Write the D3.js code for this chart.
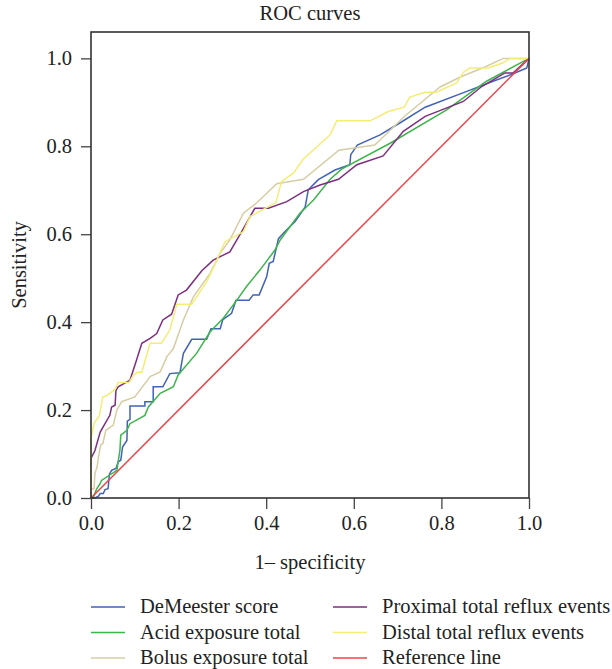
<!DOCTYPE html>
<html>
<head>
<meta charset="utf-8">
<script src="https://cdn.jsdelivr.net/npm/d3@7"></script>
<style>
  body { margin: 0; background: #fff; }
  text { font-family: "Liberation Serif", "DejaVu Serif", serif; fill: #222; }
</style>
</head>
<body>
<div id="vis"></div>
<script>
// ROC points as [1 - specificity, sensitivity]
var deMeester = [[0,0],[0.009,0],[0.017,0.004],[0.021,0.010],[0.028,0.010],[0.032,0.019],[0.039,0.021],
  [0.042,0.054],[0.047,0.063],[0.057,0.067],[0.062,0.082],[0.068,0.086],[0.072,0.116],[0.082,0.131],
  [0.083,0.175],[0.089,0.179],[0.089,0.209],[0.123,0.209],[0.123,0.219],[0.142,0.219],[0.142,0.253],
  [0.164,0.253],[0.180,0.283],[0.203,0.285],[0.211,0.329],[0.230,0.361],[0.264,0.361],[0.274,0.385],
  [0.295,0.385],[0.301,0.406],[0.321,0.420],[0.331,0.450],[0.361,0.450],[0.370,0.462],[0.384,0.462],
  [0.401,0.503],[0.407,0.534],[0.416,0.538],[0.428,0.590],[0.443,0.606],[0.466,0.629],[0.489,0.662],
  [0.496,0.701],[0.519,0.724],[0.557,0.746],[0.591,0.758],[0.593,0.781],[0.608,0.803],[0.660,0.826],
  [0.705,0.853],[0.763,0.889],[0.858,0.925],[0.918,0.948],[0.964,0.965],[0.995,0.978],[1,1]];

var acidExposure = [[0,0],[0.005,0],[0.013,0.021],[0.021,0.033],[0.024,0.040],[0.059,0.063],[0.066,0.108],
  [0.068,0.143],[0.082,0.154],[0.089,0.169],[0.123,0.188],[0.131,0.207],[0.158,0.238],[0.188,0.253],
  [0.199,0.280],[0.241,0.329],[0.272,0.378],[0.302,0.409],[0.333,0.450],[0.355,0.481],[0.386,0.519],
  [0.420,0.564],[0.432,0.587],[0.477,0.648],[0.508,0.678],[0.546,0.725],[0.572,0.748],[0.683,0.807],
  [0.812,0.883],[0.903,0.948],[1,1]];

var bolusExposure = [[0,0],[0,0.021],[0.007,0.021],[0.009,0.056],[0.014,0.071],[0.017,0.093],[0.022,0.120],
  [0.027,0.124],[0.034,0.154],[0.051,0.166],[0.059,0.200],[0.070,0.219],[0.100,0.230],[0.135,0.276],
  [0.158,0.287],[0.173,0.321],[0.188,0.340],[0.211,0.405],[0.234,0.458],[0.272,0.511],[0.295,0.557],
  [0.317,0.587],[0.348,0.648],[0.378,0.671],[0.424,0.715],[0.485,0.725],[0.566,0.791],[0.648,0.803],
  [0.718,0.870],[0.797,0.935],[0.842,0.957],[0.903,0.982],[0.941,1.0],[1,1]];

var proximalEvents = [[0,0],[0,0.090],[0.009,0.108],[0.021,0.150],[0.032,0.169],[0.043,0.188],[0.047,0.207],
  [0.055,0.211],[0.057,0.245],[0.062,0.253],[0.089,0.268],[0.104,0.314],[0.116,0.352],[0.135,0.363],
  [0.150,0.374],[0.164,0.405],[0.184,0.418],[0.199,0.462],[0.218,0.473],[0.253,0.517],[0.279,0.541],
  [0.317,0.560],[0.344,0.606],[0.374,0.659],[0.405,0.659],[0.447,0.674],[0.485,0.697],[0.523,0.712],
  [0.565,0.725],[0.607,0.758],[0.667,0.778],[0.713,0.834],[0.763,0.868],[0.850,0.902],[0.892,0.936],
  [0.945,0.967],[0.964,0.967],[1,1]];

var distalEvents = [[0,0],[0,0.135],[0.007,0.170],[0.019,0.187],[0.027,0.230],[0.034,0.232],[0.055,0.247],
  [0.062,0.263],[0.087,0.263],[0.097,0.280],[0.106,0.286],[0.116,0.286],[0.135,0.352],[0.161,0.352],
  [0.180,0.382],[0.196,0.441],[0.230,0.441],[0.264,0.492],[0.279,0.523],[0.306,0.583],[0.348,0.606],
  [0.363,0.640],[0.422,0.672],[0.435,0.720],[0.462,0.739],[0.485,0.771],[0.546,0.826],[0.561,0.858],
  [0.637,0.858],[0.679,0.879],[0.715,0.889],[0.728,0.912],[0.763,0.923],[0.789,0.923],[0.835,0.944],
  [0.850,0.968],[0.865,0.978],[0.907,0.978],[0.941,0.990],[0.957,1.0],[1,1]];

var referenceLine = [[0,0],[1,1]];

var seriesNames = ["DeMeester score", "Acid exposure total", "Bolus exposure total",
                   "Proximal total reflux events", "Distal total reflux events", "Reference line"];
var seriesData = [deMeester, acidExposure, bolusExposure, proximalEvents, distalEvents, referenceLine];
var seriesColors = ["#4162b6", "#3db54b", "#d6cda4", "#7e2e80", "#f3ed74", "#e8474a"];
var tickValues = [0, 0.2, 0.4, 0.6, 0.8, 1.0];

var width = 612,
    height = 669,
    plotLeft = 91, plotRight = 529, plotTop = 32, plotBottom = 498;

var svg = d3.select("#vis").append("svg")
    .attr("width", width)
    .attr("height", height);

var x = d3.scaleLinear().domain([0, 1]).range([plotLeft, plotRight]);
var y = d3.scaleLinear().domain([0, 1.06]).range([plotBottom, plotTop]);

svg.append("text")
    .attr("x", (plotLeft + plotRight) / 2)
    .attr("y", 20)
    .attr("text-anchor", "middle")
    .style("font-size", "20.5px")
    .text("ROC curves");

var xAxis = svg.append("g")
    .attr("transform", "translate(0," + plotBottom + ")")
    .call(d3.axisBottom(x).tickValues(tickValues).tickFormat(d3.format(".1f"))
        .tickSize(11).tickPadding(6));

var yAxis = svg.append("g")
    .attr("transform", "translate(" + plotLeft + ",0)")
    .call(d3.axisLeft(y).tickValues(tickValues).tickFormat(d3.format(".1f"))
        .tickSize(10).tickPadding(9));

[xAxis, yAxis].forEach(function(g) {
    g.select(".domain").remove();
    g.selectAll(".tick line").attr("stroke", "#444").attr("stroke-width", 1.3);
    g.selectAll(".tick text")
        .style("font-family", "'Liberation Serif', serif")
        .style("font-size", "20.5px")
        .attr("fill", "#222");
});

svg.append("text")
    .attr("x", (plotLeft + plotRight) / 2)
    .attr("y", 569)
    .attr("text-anchor", "middle")
    .style("font-size", "20.5px")
    .text("1\u2013 specificity");

svg.append("text")
    .attr("transform", "translate(26," + y(0.53) + ")rotate(-90)")
    .attr("text-anchor", "middle")
    .style("font-size", "20.5px")
    .text("Sensitivity");

var line = d3.line()
    .x(function(d) { return x(d[0]); })
    .y(function(d) { return y(d[1]); });

svg.append("g").selectAll("path")
    .data(seriesData)
    .enter().append("path")
    .attr("d", line)
    .attr("fill", "none")
    .attr("stroke", function(d, i) { return seriesColors[i]; })
    .attr("stroke-width", 1.5);

svg.append("rect")
    .attr("x", plotLeft)
    .attr("y", plotTop)
    .attr("width", plotRight - plotLeft)
    .attr("height", plotBottom - plotTop)
    .attr("fill", "none")
    .attr("stroke", "#333")
    .attr("stroke-width", 1.6);

var legend = svg.append("g").selectAll("g")
    .data(seriesNames)
    .enter().append("g")
    .attr("transform", function(d, i) {
        var col = Math.floor(i / 3), row = i % 3;
        return "translate(" + (col ? 333 : 91) + "," + (607 + row * 25.5) + ")";
    });

legend.append("line")
    .attr("x1", 0)
    .attr("x2", 34)
    .attr("stroke", function(d, i) { return seriesColors[i]; })
    .attr("stroke-width", 1.5);

legend.append("text")
    .attr("x", 49)
    .attr("y", 6)
    .style("font-size", "20.5px")
    .text(function(d) { return d; });
</script>
</body>
</html>
